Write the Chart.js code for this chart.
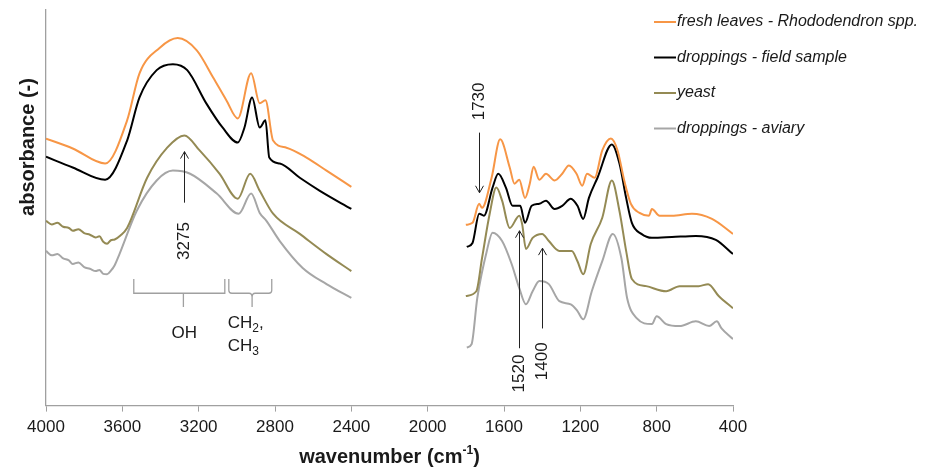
<!DOCTYPE html>
<html>
<head>
<meta charset="utf-8">
<title>FTIR spectra</title>
<script src="https://cdn.jsdelivr.net/npm/chart.js@4.4.1/dist/chart.umd.min.js"></script>
<style>
  body { margin: 0; background: #fff; }
  canvas { display: block; }
</style>
</head>
<body>
<canvas id="spectraChart" width="933" height="468"></canvas>
<script>
// wavenumber (cm-1) / absorbance pairs, null = gap 2400..1800
const leavesWn = [4000, 3860, 3690, 3575, 3510, 3405, 3310, 3210, 3125, 3055, 2995, 2925, 2880, 2850, 2810, 2740, 2635, 2530, 2400,
    2100,
    1800, 1765, 1730, 1715, 1665, 1620, 1570, 1545, 1520, 1490, 1465, 1445, 1415, 1380, 1335, 1295, 1260, 1220, 1190, 1165,
    1125, 1085, 1040, 1005, 970, 935, 890, 840, 825, 785, 720, 615, 510, 400];
const leavesAbs = [0.675, 0.650, 0.612, 0.721, 0.840, 0.904, 0.929, 0.898, 0.830, 0.772, 0.726, 0.840, 0.764, 0.772, 0.670, 0.652, 0.627, 0.594, 0.553,
    null,
    0.457, 0.462, 0.510, 0.500, 0.576, 0.673, 0.602, 0.561, 0.571, 0.525, 0.561, 0.604, 0.571, 0.586, 0.569, 0.586, 0.607, 0.586, 0.556, 0.586,
    0.576, 0.645, 0.675, 0.645, 0.569, 0.510, 0.487, 0.480, 0.497, 0.480, 0.480, 0.485, 0.472, 0.434];

const fieldWn = [4000, 3860, 3690, 3575, 3510, 3420, 3335, 3260, 3160, 3075, 2995, 2960, 2920, 2880, 2850, 2830, 2775, 2670, 2565, 2400,
    2100,
    1795, 1765, 1730, 1705, 1660, 1630, 1590, 1555, 1515, 1490, 1455, 1415, 1380, 1335, 1295, 1250, 1215, 1185, 1155, 1110,
    1035, 995, 960, 930, 880, 825, 720, 595, 490, 400];
const fieldAbs = [0.629, 0.602, 0.571, 0.670, 0.779, 0.848, 0.863, 0.848, 0.764, 0.703, 0.665, 0.703, 0.779, 0.703, 0.721, 0.627, 0.612, 0.576, 0.543, 0.497,
    null,
    0.401, 0.411, 0.485, 0.480, 0.551, 0.586, 0.551, 0.505, 0.505, 0.462, 0.505, 0.510, 0.518, 0.497, 0.505, 0.523, 0.505, 0.472, 0.525, 0.576,
    0.660, 0.612, 0.525, 0.462, 0.434, 0.424, 0.426, 0.429, 0.419, 0.383];

const yeastWn = [4000, 3970, 3940, 3910, 3880, 3860, 3830, 3800, 3770, 3740, 3720, 3700, 3680, 3660, 3640, 3610, 3575, 3470, 3365, 3275,
    3195, 3090, 2995, 2930, 2880, 2810, 2670, 2530, 2400,
    2100,
    1800, 1745, 1715, 1675, 1640, 1610, 1570, 1520, 1505, 1485, 1450, 1400, 1365, 1310, 1245, 1215, 1185, 1145, 1085, 1035,
    995, 960, 930, 855, 750, 680, 580, 530, 475, 400];
const yeastAbs = [0.467, 0.458, 0.462, 0.452, 0.449, 0.442, 0.446, 0.436, 0.432, 0.425, 0.428, 0.414, 0.409, 0.418, 0.420, 0.430, 0.449, 0.576, 0.652, 0.683,
    0.645, 0.586, 0.523, 0.586, 0.543, 0.485, 0.434, 0.383, 0.340,
    null,
    0.277, 0.289, 0.373, 0.485, 0.551, 0.518, 0.449, 0.480, 0.459, 0.396, 0.424, 0.434, 0.416, 0.391, 0.391, 0.365, 0.332, 0.409, 0.475, 0.569,
    0.492, 0.391, 0.320, 0.302, 0.289, 0.302, 0.302, 0.307, 0.277, 0.246];

const aviaryWn = [4000, 3970, 3940, 3910, 3880, 3860, 3830, 3800, 3770, 3740, 3720, 3700, 3680, 3660, 3640, 3615, 3525, 3420, 3335, 3245,
    3105, 2990, 2925, 2880, 2845, 2775, 2655, 2530, 2400,
    2100,
    1795, 1770, 1740, 1690, 1660, 1610, 1560, 1520, 1485, 1450, 1415, 1365, 1310, 1250, 1215, 1185, 1140, 1085, 1030, 985,
    955, 905, 825, 800, 750, 680, 595, 525, 485, 460, 400];
const aviaryAbs = [0.391, 0.380, 0.383, 0.372, 0.367, 0.358, 0.362, 0.350, 0.346, 0.340, 0.343, 0.333, 0.332, 0.341, 0.355, 0.383, 0.492, 0.569, 0.594, 0.586,
    0.536, 0.485, 0.536, 0.487, 0.467, 0.416, 0.348, 0.307, 0.272,
    null,
    0.147, 0.155, 0.272, 0.391, 0.437, 0.416, 0.358, 0.297, 0.256, 0.289, 0.315, 0.307, 0.264, 0.256, 0.239, 0.218, 0.289, 0.365, 0.434, 0.373,
    0.272, 0.221, 0.206, 0.226, 0.206, 0.201, 0.213, 0.201, 0.213, 0.195, 0.168];

const seriesNames = ['fresh leaves - Rhododendron spp.', 'droppings - field sample', 'yeast', 'droppings - aviary'];
const seriesColors = ['#f79646', '#000000', '#948a54', '#a6a6a6'];

const peakLabels = ['3275', '1730', '1520', '1400'];
const peakWn = [3275, 1730, 1520, 1400];

const FONT = "'Liberation Sans', Arial, sans-serif";

function toPoints(wn, abs) {
    return wn.map((w, i) => ({ x: w, y: abs[i] }));
}

function arrow(ctx, x, yFrom, yTo) {
    const dir = yTo < yFrom ? 1 : -1;
    ctx.beginPath();
    ctx.moveTo(x, yFrom);
    ctx.lineTo(x, yTo);
    ctx.moveTo(x - 4, yTo + dir * 7);
    ctx.lineTo(x, yTo);
    ctx.lineTo(x + 4, yTo + dir * 7);
    ctx.stroke();
}

function rotatedText(ctx, text, x, y) {
    ctx.save();
    ctx.translate(x, y);
    ctx.rotate(-Math.PI / 2);
    ctx.textAlign = 'center';
    ctx.textBaseline = 'middle';
    ctx.fillText(text, 0, 0);
    ctx.restore();
}

// CH2 / CH3 style label with a lowered digit
function chemText(ctx, base, sub, tail, x, y) {
    ctx.font = '17px ' + FONT;
    ctx.textAlign = 'left';
    ctx.textBaseline = 'middle';
    ctx.fillText(base, x, y);
    let w = ctx.measureText(base).width;
    ctx.font = '12px ' + FONT;
    ctx.fillText(sub, x + w, y + 5);
    w += ctx.measureText(sub).width;
    if (tail) {
        ctx.font = '17px ' + FONT;
        ctx.fillText(tail, x + w, y);
    }
}

const extras = {
    id: 'extras',
    afterDraw(chart) {
        const ctx = chart.ctx;
        const xs = chart.scales.x;
        const ys = chart.scales.y;
        const px = v => xs.getPixelForValue(v);
        const py = v => ys.getPixelForValue(v);

        ctx.save();
        ctx.fillStyle = '#1a1a1a';
        ctx.strokeStyle = '#222';
        ctx.lineWidth = 1;

        // peak arrows + rotated wavenumbers
        ctx.font = '17px ' + FONT;
        const arrowFrom = [0.513, 0.690, 0.145, 0.195];
        const arrowTo = [0.642, 0.538, 0.442, 0.398];
        const labelAt = [0.416, 0.769, 0.081, 0.112];
        peakWn.forEach((w, i) => {
            const x = Math.round(px(w)) + 0.5;
            arrow(ctx, x, py(arrowFrom[i]), py(arrowTo[i]));
            rotatedText(ctx, peakLabels[i], x, py(labelAt[i]));
        });

        // OH and CH brackets
        ctx.strokeStyle = '#a0a0a0';
        ctx.lineWidth = 1.3;
        const top = py(0.320), bar = py(0.284), stem = py(0.249);
        const oh1 = px(3540), oh2 = px(3063), ohC = px(3280);
        ctx.beginPath();
        ctx.moveTo(oh1, top);
        ctx.lineTo(oh1, bar);
        ctx.lineTo(oh2, bar);
        ctx.lineTo(oh2, top);
        ctx.moveTo(ohC, bar);
        ctx.lineTo(ohC, stem);
        ctx.stroke();

        const ch1 = px(3042), ch2 = px(2817), chC = px(2920);
        ctx.beginPath();
        ctx.moveTo(ch1, top);
        ctx.lineTo(ch1, bar - 3);
        ctx.quadraticCurveTo(ch1, bar, ch1 + 3, bar);
        ctx.lineTo(chC - 3, bar);
        ctx.quadraticCurveTo(chC, bar, chC, bar + 4);
        ctx.lineTo(chC, stem);
        ctx.moveTo(chC, bar + 4);
        ctx.quadraticCurveTo(chC, bar, chC + 3, bar);
        ctx.lineTo(ch2 - 3, bar);
        ctx.quadraticCurveTo(ch2, bar, ch2, bar - 3);
        ctx.lineTo(ch2, top);
        ctx.stroke();

        ctx.font = '17px ' + FONT;
        ctx.textAlign = 'center';
        ctx.textBaseline = 'middle';
        ctx.fillText('OH', px(3275), py(0.183));
        chemText(ctx, 'CH', '2', ',', px(3048), py(0.208));
        chemText(ctx, 'CH', '3', '', px(3048), py(0.150));

        // axis titles
        ctx.font = 'bold 20px ' + FONT;
        rotatedText(ctx, 'absorbance (-)', 28, 147);
        const t1 = 'wavenumber (cm';
        ctx.textAlign = 'left';
        ctx.textBaseline = 'middle';
        const w1 = ctx.measureText(t1).width;
        ctx.font = 'bold 12px ' + FONT;
        const w2 = ctx.measureText('-1').width;
        ctx.font = 'bold 20px ' + FONT;
        const w3 = ctx.measureText(')').width;
        const xStart = (xs.left + xs.right) / 2 - (w1 + w2 + w3) / 2;
        const ty = 457;
        ctx.fillText(t1, xStart, ty);
        ctx.font = 'bold 12px ' + FONT;
        ctx.fillText('-1', xStart + w1, ty - 6);
        ctx.font = 'bold 20px ' + FONT;
        ctx.fillText(')', xStart + w1 + w2, ty);

        // legend, top right over the plot
        ctx.font = 'italic 16px ' + FONT;
        ctx.lineWidth = 2;
        seriesNames.forEach((name, i) => {
            const y = 22 + i * 35.5;
            ctx.strokeStyle = seriesColors[i];
            ctx.beginPath();
            ctx.moveTo(654, y);
            ctx.lineTo(676, y);
            ctx.stroke();
            ctx.fillStyle = '#1a1a1a';
            ctx.fillText(name, 677, y);
        });
        ctx.restore();
    }
};

function renderSpectra() {
    const ctx = document.getElementById('spectraChart').getContext('2d');
    const series = [
        toPoints(leavesWn, leavesAbs),
        toPoints(fieldWn, fieldAbs),
        toPoints(yeastWn, yeastAbs),
        toPoints(aviaryWn, aviaryAbs),
    ];
    return new Chart(ctx, {
        type: 'line',
        data: {
            datasets: series.map((pts, i) => ({
                label: seriesNames[i],
                data: pts,
                borderColor: seriesColors[i],
                backgroundColor: seriesColors[i],
                borderWidth: 2,
                pointRadius: 0,
                cubicInterpolationMode: 'monotone',
                spanGaps: false,
            })),
        },
        options: {
            responsive: false,
            animation: false,
            layout: { padding: { left: 46, right: 200, top: 10, bottom: 24 } },
            plugins: {
                legend: { display: false },
                tooltip: { enabled: false },
            },
            scales: {
                x: {
                    type: 'linear',
                    reverse: true,
                    min: 400,
                    max: 4000,
                    ticks: {
                        stepSize: 400,
                        autoSkip: false,
                        maxRotation: 0,
                        padding: 6,
                        color: '#1a1a1a',
                        font: { family: FONT, size: 17 },
                        callback: v => String(v),
                    },
                    grid: { drawOnChartArea: false, color: '#a0a0a0', tickLength: 6 },
                    border: { color: '#a0a0a0', width: 1.3 },
                },
                y: {
                    min: 0,
                    max: 1,
                    ticks: { display: false },
                    grid: { display: false, drawTicks: false },
                    border: { color: '#a0a0a0', width: 1.3 },
                },
            },
        },
        plugins: [extras],
    });
}

renderSpectra();
</script>
</body>
</html>
